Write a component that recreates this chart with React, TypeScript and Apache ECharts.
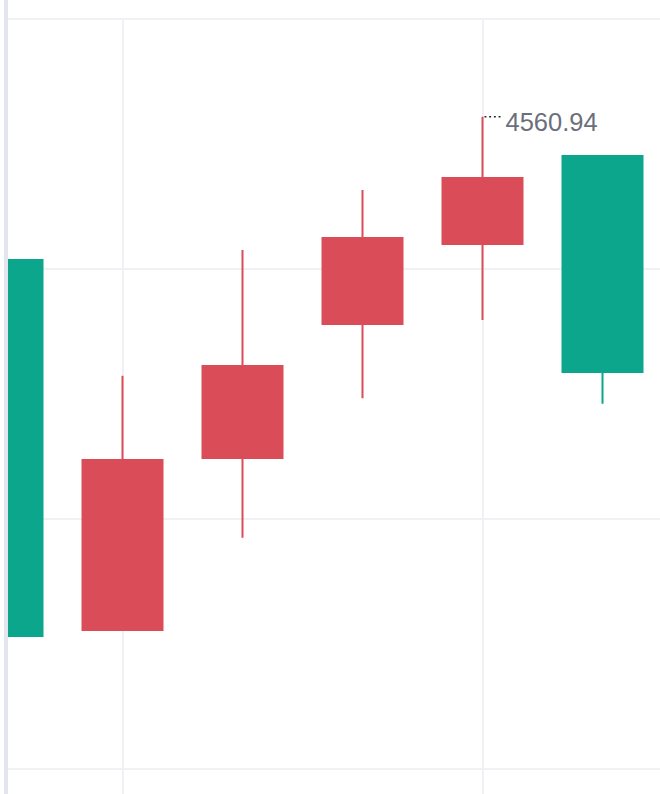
import { useEffect, useRef } from 'react';
import * as echarts from 'echarts';

// bar position on the hidden x axis (only the last few bars are in view)
const barIndex = [2, 3, 4, 5, 6, 7];
const opens = [4503.62, 4355.63, 4424.41, 4478.02, 4510.05, 4545.21];
const closes = [4353.18, 4423.57, 4461.24, 4512.38, 4536.44, 4458.83];
const lows = [4341.27, 4355.63, 4392.46, 4448.35, 4479.62, 4446.07];
const highs = [4518.66, 4457.29, 4507.58, 4531.63, 4560.94, 4545.21];

const UP = '#DA4C58';
const DOWN = '#0CA68C';

export default function App() {
  const chartRef = useRef<HTMLDivElement>(null);

  useEffect(() => {
    if (!chartRef.current) return;
    const chart = echarts.init(chartRef.current, undefined, { renderer: 'svg' });

    const data = barIndex.map((x, i) => [x, opens[i], closes[i], lows[i], highs[i]]);
    const maxHigh = Math.max(...highs);
    const maxIdx = highs.indexOf(maxHigh);

    chart.setOption({
      animation: false,
      backgroundColor: '#FFFFFF',
      grid: {
        left: -237.5,
        top: 19,
        width: 1080,
        height: 1000,
        outerBoundsMode: 'none',
        containLabel: false,
      },
      xAxis: {
        type: 'value',
        min: 0,
        max: 9,
        interval: 3,
        axisLine: { show: false },
        axisTick: { show: false },
        axisLabel: { show: false },
        splitLine: { show: true, lineStyle: { color: '#F0F0F5', width: 2 } },
      },
      yAxis: {
        type: 'value',
        min: 4200,
        max: 4600,
        interval: 100,
        axisLine: { show: false },
        axisTick: { show: false },
        axisLabel: { show: false },
        splitLine: { show: true, lineStyle: { color: '#F0F0F5', width: 2 } },
      },
      series: [
        {
          type: 'candlestick',
          data,
          encode: { x: 0, y: [1, 2, 3, 4] },
          barWidth: 81,
          itemStyle: {
            color: UP,
            color0: DOWN,
            borderColor: UP,
            borderColor0: DOWN,
            borderWidth: 2,
          },
          markPoint: {
            silent: true,
            symbol: 'path://M0 0h2v2H0zM5 0h2v2H5zM10 0h2v2h-2zM15 0h2v2h-2z',
            symbolSize: [16, 1.5],
            symbolOffset: [10, 0],
            itemStyle: { color: '#222222' },
            label: {
              show: true,
              position: 'right',
              distance: 5,
              offset: [0, 5],
              color: '#6B6F7C',
              fontSize: 25.5,
              fontFamily: 'Liberation Sans, Arial, sans-serif',
              formatter: () => maxHigh.toFixed(2),
            },
            data: [{ coord: [barIndex[maxIdx], maxHigh], value: maxHigh }],
          },
        },
      ],
      graphic: [
        { type: 'rect', z: 100, shape: { x: 0, y: 0, width: 4, height: 794 }, style: { fill: '#FFFFFF' } },
        { type: 'rect', z: 100, shape: { x: 4, y: 0, width: 4, height: 794 }, style: { fill: '#E4E6EF' } },
      ],
    });

    return () => chart.dispose();
  }, []);

  return (
    <div
      ref={chartRef}
      style={{ position: 'absolute', left: 0, top: 0, width: 660, height: 794 }}
    />
  );
}
